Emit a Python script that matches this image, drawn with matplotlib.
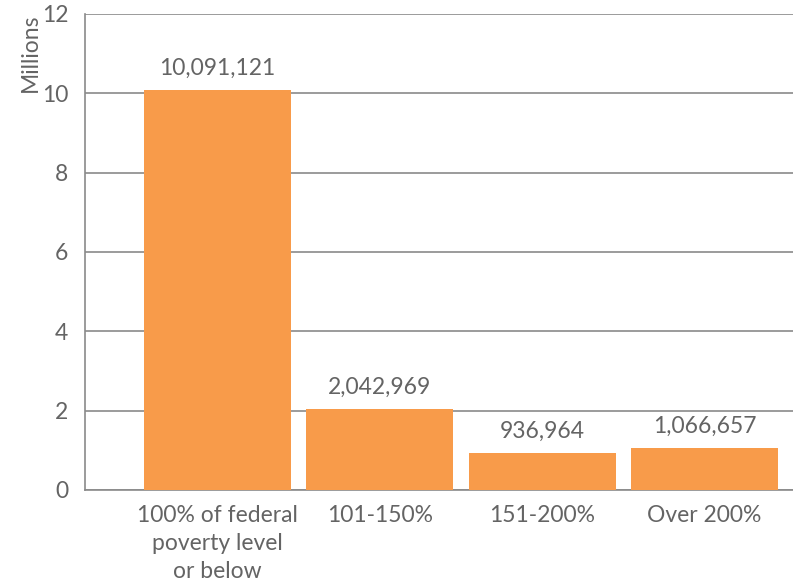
import matplotlib.pyplot as plt

categories = ["100% of federal\npoverty level\nor below", "101-150%", "151-200%", "Over 200%"]
counts = [10091121, 2042969, 936964, 1066657]
yticks = [0, 2, 4, 6, 8, 10, 12]

plt.rcParams['font.family'] = ['Lato', 'DejaVu Sans']
txt_color = '#646464'
grid_color = '#8a8a8a'
bar_color = '#F89B4A'
fs = 16.5

fig = plt.figure(figsize=(7.93, 5.85), dpi=100)
ax = fig.add_axes([85 / 793, 95 / 585, 708 / 793, 476 / 585])

values = [c / 1e6 for c in counts]
x = list(range(len(categories)))
ax.bar(x, values, width=0.905, color=bar_color, zorder=3)

for xi, c, v in zip(x, counts, values):
    ax.text(xi, v + 0.28, f"{c:,}", ha='center', va='bottom', fontsize=fs,
            color=txt_color)

ax.set_xlim(-0.816, 3.545)
ax.set_ylim(0, 12)
ax.set_yticks(yticks)
ax.set_yticklabels([str(t) for t in yticks], fontsize=fs, color=txt_color)
ax.set_xticks(x)
ax.set_xticklabels(categories, fontsize=fs, color=txt_color, linespacing=1.4)
ax.tick_params(axis='x', length=0, pad=11)
ax.tick_params(axis='y', length=0, pad=12)

ax.yaxis.grid(True, color=grid_color, linewidth=1.2, zorder=0)
for side in ['top', 'right']:
    ax.spines[side].set_visible(False)
for side in ['left', 'bottom']:
    ax.spines[side].set_color(grid_color)
    ax.spines[side].set_linewidth(1.2)

fig.text(30 / 793, 1 - 14 / 585, "Millions", rotation=90, ha='center', va='top',
         fontsize=fs, color=txt_color)

fig.savefig('out.png', dpi=100)
